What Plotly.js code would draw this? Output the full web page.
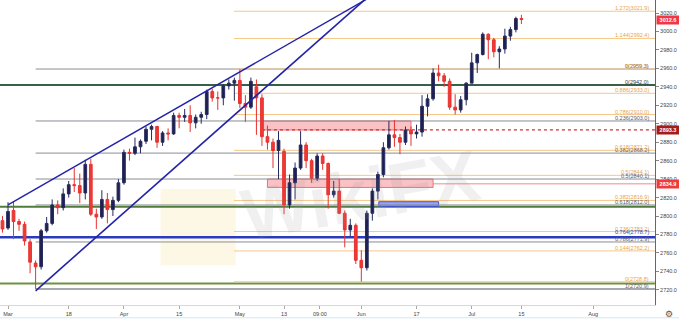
<!DOCTYPE html>
<html>
<head>
<meta charset="utf-8">
<script src="https://cdn.plot.ly/plotly-3.0.1.min.js"></script>
<style>html,body{margin:0;padding:0;background:#fff;}#chart{width:679px;height:319px;}</style>
</head>
<body>
<div id="chart"></div>
<script>
// ---- Candles (S&P 500 futures, daily) ----
const dates = ['2019-02-27','2019-02-28','2019-03-01','2019-03-04','2019-03-05','2019-03-06','2019-03-07','2019-03-08',
'2019-03-11','2019-03-12','2019-03-13','2019-03-14','2019-03-15','2019-03-18','2019-03-19','2019-03-20','2019-03-21','2019-03-22',
'2019-03-25','2019-03-26','2019-03-27','2019-03-28','2019-03-29','2019-04-01','2019-04-02','2019-04-03','2019-04-04','2019-04-05',
'2019-04-08','2019-04-09','2019-04-10','2019-04-11','2019-04-12','2019-04-15','2019-04-16','2019-04-17','2019-04-18',
'2019-04-22','2019-04-23','2019-04-24','2019-04-25','2019-04-26','2019-04-29','2019-04-30','2019-05-01','2019-05-02','2019-05-03',
'2019-05-06','2019-05-07','2019-05-08','2019-05-09','2019-05-10','2019-05-13','2019-05-14','2019-05-15','2019-05-16','2019-05-17',
'2019-05-20','2019-05-21','2019-05-22','2019-05-23','2019-05-24','2019-05-28','2019-05-29','2019-05-30','2019-05-31',
'2019-06-03','2019-06-04','2019-06-05','2019-06-06','2019-06-07','2019-06-10','2019-06-11','2019-06-12','2019-06-13','2019-06-14',
'2019-06-17','2019-06-18','2019-06-19','2019-06-20','2019-06-21','2019-06-24','2019-06-25','2019-06-26','2019-06-27','2019-06-28',
'2019-07-01','2019-07-02','2019-07-03','2019-07-05','2019-07-08','2019-07-09','2019-07-10','2019-07-11','2019-07-12','2019-07-15'];
const open  = [2790,2795,2787,2806,2794,2791,2772,2749, 2745,2784,2792,2812,2809,2824,2834,2833,2825,2856, 2802,2799,2818,2807,2817,2836,2869,2868,2875,2881,
2894,2897,2880,2890,2889,2909,2907,2909,2901, 2907,2910,2935,2928,2928,2941,2944,2947,2922,2918, 2940,2928,2886,2880,2871,2870,2812,2836,2852,2877,
2860,2841,2865,2857,2823,2827,2803,2785,2790, 2752,2744,2803,2827,2845,2874,2888,2885,2880,2893, 2889,2891,2919,2927,2955,2952,2946,2918,2915,2926,
2944,2966,2975,2997,2991,2978,2981,2995,3002,3014];
const high  = [2797,2800,2815,2816,2797,2794,2775,2752, 2786,2799,2818,2817,2830,2838,2852,2846,2861,2862, 2808,2828,2825,2821,2840,2872,2873,2885,2883,2897,
2899,2898,2892,2895,2912,2912,2916,2920,2910, 2913,2937,2938,2935,2943,2948,2950,2959,2931,2950, 2948,2932,2898,2884,2892,2873,2845,2858,2892,2880,
2862,2868,2868,2858,2838,2840,2806,2797,2792, 2763,2806,2830,2848,2880,2903,2904,2889,2897,2897, 2899,2931,2932,2960,2964,2955,2949,2932,2930,2945,
2977,2976,2999,2998,2993,2984,3003,3005,3016,3018];
const low   = [2776,2782,2785,2775,2784,2768,2738,2721, 2742,2782,2790,2802,2806,2820,2826,2814,2818,2800, 2786,2797,2792,2800,2815,2834,2860,2866,2868,2878,
2882,2874,2876,2882,2888,2895,2902,2891,2895, 2900,2905,2924,2915,2920,2937,2925,2917,2902,2916, 2888,2876,2872,2852,2840,2802,2808,2818,2850,2852,
2836,2838,2850,2808,2820,2802,2766,2778,2748, 2729,2741,2795,2818,2842,2872,2875,2867,2877,2876, 2884,2886,2908,2925,2946,2940,2915,2910,2912,2920,
2944,2955,2974,2970,2972,2960,2976,2990,2999,3008];
const close = [2795,2786,2805,2794,2791,2773,2750,2745, 2784,2792,2812,2809,2824,2834,2833,2825,2856,2802, 2799,2818,2807,2817,2836,2869,2868,2875,2881,2894,
2897,2880,2890,2889,2909,2907,2909,2901,2907, 2910,2935,2928,2928,2941,2944,2947,2922,2918,2946, 2928,2886,2880,2871,2882,2812,2836,2852,2877,2860,
2841,2865,2857,2823,2827,2803,2785,2790,2752, 2744,2803,2827,2845,2874,2888,2885,2880,2893,2889, 2891,2919,2927,2955,2952,2946,2918,2915,2926,2944,
2966,2975,2997,2991,2978,2981,2995,3002,3014,3013];

// ---- Axis ticks ----
const xTickDates  = ['2019-03-01 12:00','2019-03-18 12:00','2019-04-01 12:00','2019-04-15 12:00','2019-05-01 12:00','2019-05-13 12:00','2019-05-22 00:00','2019-06-03 12:00','2019-06-17 12:00','2019-07-01 12:00','2019-07-15 12:00','2019-08-01 12:00'];
const xTickLabels = ['Mar','18','Apr','15','May','13','09:00','Jun','17','Jul','15','Aug'];
const yTicks = [2720,2740,2760,2780,2800,2820,2840,2860,2880,2900,2920,2940,2960,2980,3000,3020];
const holidays = ['2019-04-19','2019-05-27','2019-07-04'];

// ---- Fibonacci levels ----
const grayRatios   = ['0','0.236','0.382','0.5','0.618','0.786','1'];
const grayLevels   = [2959.3,2903.0,2868.2,2840.1,2812.0,2771.9,2720.9];
const grayStart    = '2019-03-08 12:00';
const orangeRatios = ['1.272','1.144','1','0.886','0.786','0.618','0.5','0.382','0.236','0.144','0'];
const orangeLevels = [3021.9,2992.4,2959.3,2933.0,2910.0,2871.2,2844.1,2816.9,2783.2,2762.2,2728.8];
const orangeStart  = '2019-04-30 10:00';

// ---- Horizontal support / resistance lines ----
const hLevels = [2942.0, 2810.0, 2727.0, 2777.0];
const hColors = ['#3a5f47','#4f7b3b','#6f9140','#2b3bc0'];
const hLabels = ['0(2942.0)', '', '', '0.764(2778.7)'];

// ---- Zones ----
const zoneRedTop = {x0:'2019-05-07 12:00', x1:'2019-06-14 12:00', y0:2893.3, y1:2903.0};
const zoneRedMid = {x0:'2019-05-08 12:00', x1:'2019-06-20 12:00', y0:2831.0, y1:2840.1};
const zoneBlue   = {x0:'2019-06-06 16:00', x1:'2019-06-21 12:00', y0:2810.5, y1:2815.5};
const dottedLevel = 2893.3;
const thinLevel = 2834.9;
const lastPrice = 3012.6;

// ---- Trendlines ----
const upperX = ['2019-03-01 12:00','2019-06-06 12:00'];
const upperY = [2812, 3042];
const lowerX = ['2019-03-08 12:00','2019-06-06 12:00'];
const lowerY = [2719, 3047];

const FONT = 'Liberation Sans, Arial, sans-serif';
const farRight = '2019-08-30 12:00';

const traces = [
  {type:'scatter', mode:'lines', x:upperX, y:upperY, line:{color:'#2323a8', width:1.4}, hoverinfo:'skip'},
  {type:'scatter', mode:'lines', x:lowerX, y:lowerY, line:{color:'#2323a8', width:1.6}, hoverinfo:'skip'},
  {type:'candlestick', x:dates.map(d => d + ' 12:00'), open, high, low, close,
   increasing:{line:{color:'#272b5e', width:1}, fillcolor:'#1d2050'},
   decreasing:{line:{color:'#e8322f', width:1}, fillcolor:'#ee3a36'},
   whiskerwidth:0, hoverinfo:'skip'}
];

const shapes = [];
const annotations = [];

// watermark logo block
shapes.push({type:'rect', xref:'paper', yref:'paper', x0:0.245, x1:0.36, y0:0.13, y1:0.38, fillcolor:'rgba(248,230,165,0.28)', line:{width:0}, layer:'below'});
annotations.push({xref:'paper', yref:'paper', x:0.55, y:0.36, text:'<b>WikiFX</b>', showarrow:false, textangle:-10,
  font:{family:FONT, size:72, color:'rgba(150,150,150,0.14)'}});

// zones
shapes.push({type:'rect', xref:'x', yref:'y', ...zoneRedTop, fillcolor:'rgba(242,80,90,0.35)', line:{color:'#f0707a', width:1}, layer:'below'});
shapes.push({type:'rect', xref:'x', yref:'y', ...zoneRedMid, fillcolor:'rgba(242,80,90,0.35)', line:{color:'#f0707a', width:1}, layer:'below'});
shapes.push({type:'rect', xref:'x', yref:'y', ...zoneBlue, fillcolor:'rgba(70,90,240,0.55)', line:{color:'#3a4ee0', width:1}, layer:'below'});
shapes.push({type:'line', xref:'x', yref:'y', x0:zoneRedTop.x0, x1:farRight, y0:dottedLevel, y1:dottedLevel, line:{color:'#d32f2f', width:1.2, dash:'dot'}, layer:'below'});
shapes.push({type:'line', xref:'x', yref:'y', x0:zoneRedMid.x1, x1:farRight, y0:thinLevel, y1:thinLevel, line:{color:'#f08a90', width:1}, layer:'below'});

// gray fib
grayLevels.forEach((v, i) => {
  shapes.push({type:'line', xref:'x', yref:'y', x0:grayStart, x1:farRight, y0:v, y1:v,
    line:{color: i === grayLevels.length-1 ? '#a6a9b0' : '#8a8d96', width: i === grayLevels.length-1 ? 2 : 1}, layer:'below'});
  annotations.push({xref:'paper', yref:'y', x:0.9945, y:v, xanchor:'right', yanchor:'bottom', yshift:-2, showarrow:false,
    text: grayRatios[i] + '(' + v.toFixed(1) + ')', font:{family:FONT, size:5.5, color:'#5a5d68'}});
});
// orange fib
orangeLevels.forEach((v, i) => {
  shapes.push({type:'line', xref:'x', yref:'y', x0:orangeStart, x1:farRight, y0:v, y1:v, line:{color:'#f6c88a', width:1}, layer:'below'});
  annotations.push({xref:'paper', yref:'y', x:0.9945, y:v, xanchor:'right', yanchor:'bottom', yshift:-2, showarrow:false,
    text: orangeRatios[i] + '(' + v.toFixed(1) + ')', font:{family:FONT, size:5.5, color:'#e9a448'}});
});
// horizontal S/R lines
hLevels.forEach((v, i) => {
  shapes.push({type:'line', xref:'paper', yref:'y', x0:0, x1:1, y0:v, y1:v, line:{color:hColors[i], width: i === 3 ? 2.5 : 2}, layer:'below'});
  if (hLabels[i]) annotations.push({xref:'paper', yref:'y', x:0.9945, y:v, xanchor:'right', yanchor:'bottom', yshift: i===3 ? 0 : -2, showarrow:false,
    text:hLabels[i], font:{family:FONT, size:5.5, color: i === 3 ? '#3a46a8' : '#3a3a3a'}});
});

// price boxes on axis
[[lastPrice,'#f23645'],[dottedLevel,'#a51c1c'],[thinLevel,'#ef3b3b']].forEach(([v,c]) => {
  annotations.push({xref:'paper', yref:'y', x:1, xshift:1, y:v, xanchor:'left', yanchor:'middle', showarrow:false,
    text:'<b>' + v.toFixed(1) + '</b>', bgcolor:c, borderpad:1, width:20, font:{family:FONT, size:5.5, color:'#ffffff'}});
});

// bottom strip & gear
shapes.push({type:'line', xref:'paper', yref:'paper', x0:0, x1:1.04, y0:-0.042, y1:-0.042, line:{color:'#d4e6f2', width:1}});
annotations.push({xref:'paper', yref:'paper', x:1.021, y:-0.028, xanchor:'center', yanchor:'middle', showarrow:false, text:'⚙', font:{family:'DejaVu Sans', size:9, color:'#555'}});

const layout = {
  width:679, height:319,
  margin:{l:0, r:24, t:0, b:14},
  paper_bgcolor:'#ffffff', plot_bgcolor:'#ffffff',
  showlegend:false,
  xaxis:{type:'date', range:['2019-02-28 01:12','2019-08-16 16:48'],
    rangebreaks:[{bounds:['sat','mon']},{values:holidays}],
    rangeslider:{visible:false},
    tickmode:'array', tickvals:xTickDates, ticktext:xTickLabels,
    tickfont:{family:FONT, size:5.5, color:'#444'},
    ticks:'outside', ticklen:3, tickcolor:'#aaa',
    showline:true, linecolor:'#d8d8d8', linewidth:1,
    showgrid:false, zeroline:false, fixedrange:true},
  yaxis:{side:'right', range:[2703.6, 3034.1],
    tickmode:'array', tickvals:yTicks, ticktext:yTicks.map(v => v.toFixed(1)),
    tickfont:{family:FONT, size:5.5, color:'#444'},
    ticks:'outside', ticklen:3, tickcolor:'#888',
    showline:true, linecolor:'#666', linewidth:1,
    showgrid:false, zeroline:false, fixedrange:true},
  shapes, annotations,
  hovermode:false
};

Plotly.newPlot('chart', traces, layout, {displayModeBar:false, staticPlot:true});
</script>
</body>
</html>
